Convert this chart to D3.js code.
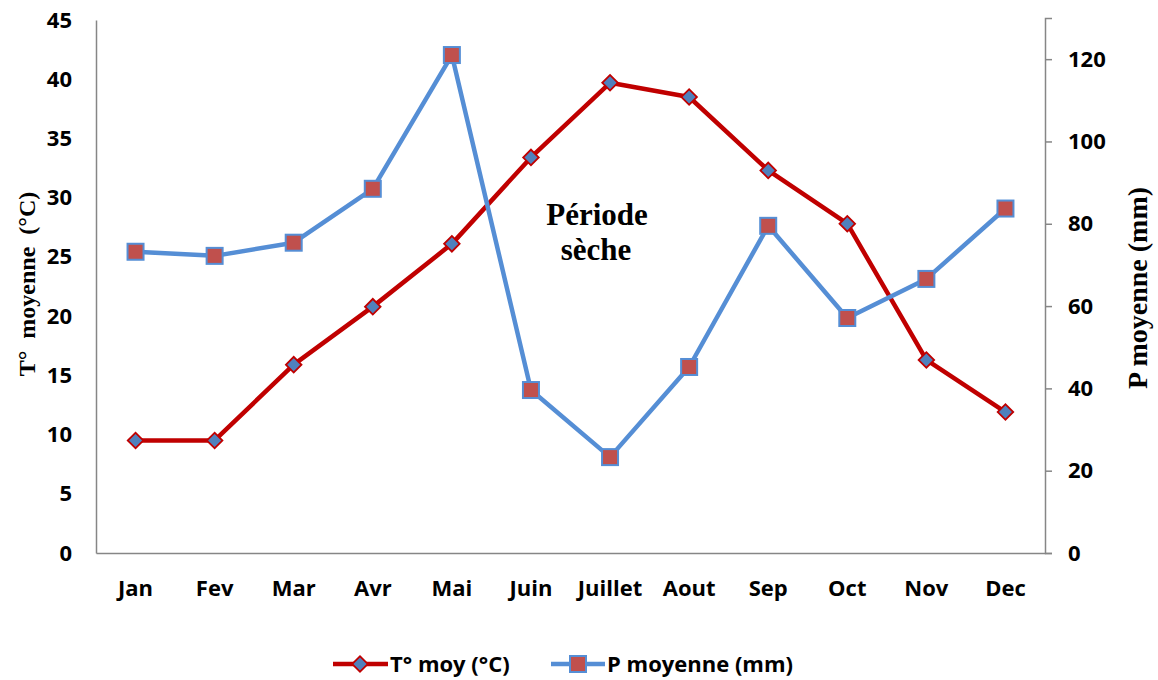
<!DOCTYPE html>
<html>
<head>
<meta charset="utf-8">
<script src="https://cdn.jsdelivr.net/npm/d3@7/dist/d3.min.js"></script>
<style>
  body { margin: 0; background: #fff; }
  svg { display: block; }
</style>
</head>
<body>
<svg id="chart"></svg>
<script>
const months = ["Jan", "Fev", "Mar", "Avr", "Mai", "Juin", "Juillet", "Aout", "Sep", "Oct", "Nov", "Dec"];
const tempMoy = [9.5, 9.5, 15.9, 20.8, 26.1, 33.4, 39.7, 38.5, 32.3, 27.8, 16.3, 11.9];
const precipMoy = [73.2, 72.2, 75.4, 88.5, 121.0, 39.6, 23.3, 45.2, 79.5, 57.1, 66.6, 83.7];
const tempTicks = [0, 5, 10, 15, 20, 25, 30, 35, 40, 45];
const precipTicks = [0, 20, 40, 60, 80, 100, 120];

const width = 1158;
const height = 680;
const plotLeft = 96, plotRight = 1045, plotTop = 20, plotBottom = 553;

const red = "#C00000";
const blue = "#558ED5";
const tickFont = "'Open Sans', Lato, sans-serif";
const serif = "'Liberation Serif', 'Times New Roman', serif";
const fontSize = "22px";

const svg = d3.select("#chart")
    .attr("width", width)
    .attr("height", height);

let x = d3.scaleBand().domain(months).range([plotLeft, plotRight]);
let yT = d3.scaleLinear().domain([0, 45]).range([plotBottom, plotTop]);
let yP = d3.scaleLinear().domain([0, 130]).range([plotBottom, plotTop - 2]);

// axes
let leftAxis = svg.append("g")
    .attr("transform", `translate(${plotLeft},0)`)
    .call(d3.axisLeft(yT).tickValues(tempTicks).tickSize(0).tickPadding(24));
leftAxis.select(".domain").attr("stroke", "#868686").attr("stroke-width", 1.5);

let rightAxis = svg.append("g")
    .attr("transform", `translate(${plotRight},0)`)
    .call(d3.axisRight(yP).tickValues(precipTicks).tickSize(7).tickPadding(16));
rightAxis.select(".domain").attr("stroke", "#868686").attr("stroke-width", 1.5);
rightAxis.selectAll(".tick line").attr("stroke", "#868686").attr("stroke-width", 1.5);

let bottomAxis = svg.append("g")
    .attr("transform", `translate(0,${plotBottom})`)
    .call(d3.axisBottom(x).tickSize(0));
bottomAxis.select(".domain").attr("stroke", "#868686").attr("stroke-width", 1.5);

svg.selectAll(".tick text")
    .attr("font-family", tickFont)
    .attr("font-weight", "bold")
    .attr("font-size", fontSize)
    .attr("fill", "#000");
bottomAxis.selectAll(".tick text").attr("y", 35).attr("dy", "0.35em");

// axis titles
svg.append("text")
    .attr("transform", `translate(35,284) rotate(-90)`)
    .attr("text-anchor", "middle")
    .attr("font-family", serif)
    .attr("font-weight", "bold")
    .attr("font-size", "24px")
    .attr("xml:space", "preserve")
    .text("T°  moyenne  (°C)");

svg.append("text")
    .attr("transform", `translate(1147,288) rotate(-90)`)
    .attr("text-anchor", "middle")
    .attr("font-family", serif)
    .attr("font-weight", "bold")
    .attr("font-size", "28px")
    .text("P moyenne (mm)");

// lines
let tempData = months.map((m, i) => ({ m: m, v: tempMoy[i] }));
let precipData = months.map((m, i) => ({ m: m, v: precipMoy[i] }));
let cx = d => x(d.m) + x.bandwidth() / 2;

svg.append("path")
    .datum(tempData)
    .attr("fill", "none")
    .attr("stroke", red)
    .attr("stroke-width", 4.5)
    .attr("stroke-linejoin", "round")
    .attr("d", d3.line().x(cx).y(d => yT(d.v)));

svg.selectAll(".tmark")
    .data(tempData)
    .enter().append("rect")
    .attr("class", "tmark")
    .attr("x", -5.5).attr("y", -5.5)
    .attr("width", 11).attr("height", 11)
    .attr("transform", d => `translate(${cx(d)},${yT(d.v)}) rotate(45)`)
    .attr("fill", "#4F81BD")
    .attr("stroke", red)
    .attr("stroke-width", 1.8);

svg.append("path")
    .datum(precipData)
    .attr("fill", "none")
    .attr("stroke", blue)
    .attr("stroke-width", 4.5)
    .attr("stroke-linejoin", "round")
    .attr("d", d3.line().x(cx).y(d => yP(d.v)));

svg.selectAll(".pmark")
    .data(precipData)
    .enter().append("rect")
    .attr("class", "pmark")
    .attr("x", d => cx(d) - 8)
    .attr("y", d => yP(d.v) - 8)
    .attr("width", 16).attr("height", 16)
    .attr("fill", "#C0504D")
    .attr("stroke", blue)
    .attr("stroke-width", 2);

// annotation
let note = svg.append("text")
    .attr("text-anchor", "middle")
    .attr("font-family", serif)
    .attr("font-weight", "bold")
    .attr("font-size", "31px")
    .attr("fill", "#000");
note.append("tspan").attr("x", 597).attr("y", 225).text("Période");
note.append("tspan").attr("x", 596).attr("y", 260).text("sèche");

// legend
let legend = svg.append("g").attr("transform", "translate(0,664)");
legend.append("line").attr("x1", 333).attr("x2", 388).attr("stroke", red).attr("stroke-width", 4.5);
legend.append("rect")
    .attr("x", -5.5).attr("y", -5.5).attr("width", 11).attr("height", 11)
    .attr("transform", "translate(360,0) rotate(45)")
    .attr("fill", "#4F81BD").attr("stroke", red).attr("stroke-width", 1.8);
legend.append("text").attr("x", 390).attr("y", 0).attr("dy", "0.35em")
    .attr("font-family", tickFont).attr("font-weight", "bold").attr("font-size", fontSize)
    .text("T° moy (°C)");

legend.append("line").attr("x1", 551).attr("x2", 605).attr("stroke", blue).attr("stroke-width", 4.5);
legend.append("rect")
    .attr("x", 570).attr("y", -8).attr("width", 16).attr("height", 16)
    .attr("fill", "#C0504D").attr("stroke", blue).attr("stroke-width", 2);
legend.append("text").attr("x", 607).attr("y", 0).attr("dy", "0.35em")
    .attr("font-family", tickFont).attr("font-weight", "bold").attr("font-size", fontSize)
    .text("P moyenne (mm)");
</script>
</body>
</html>
